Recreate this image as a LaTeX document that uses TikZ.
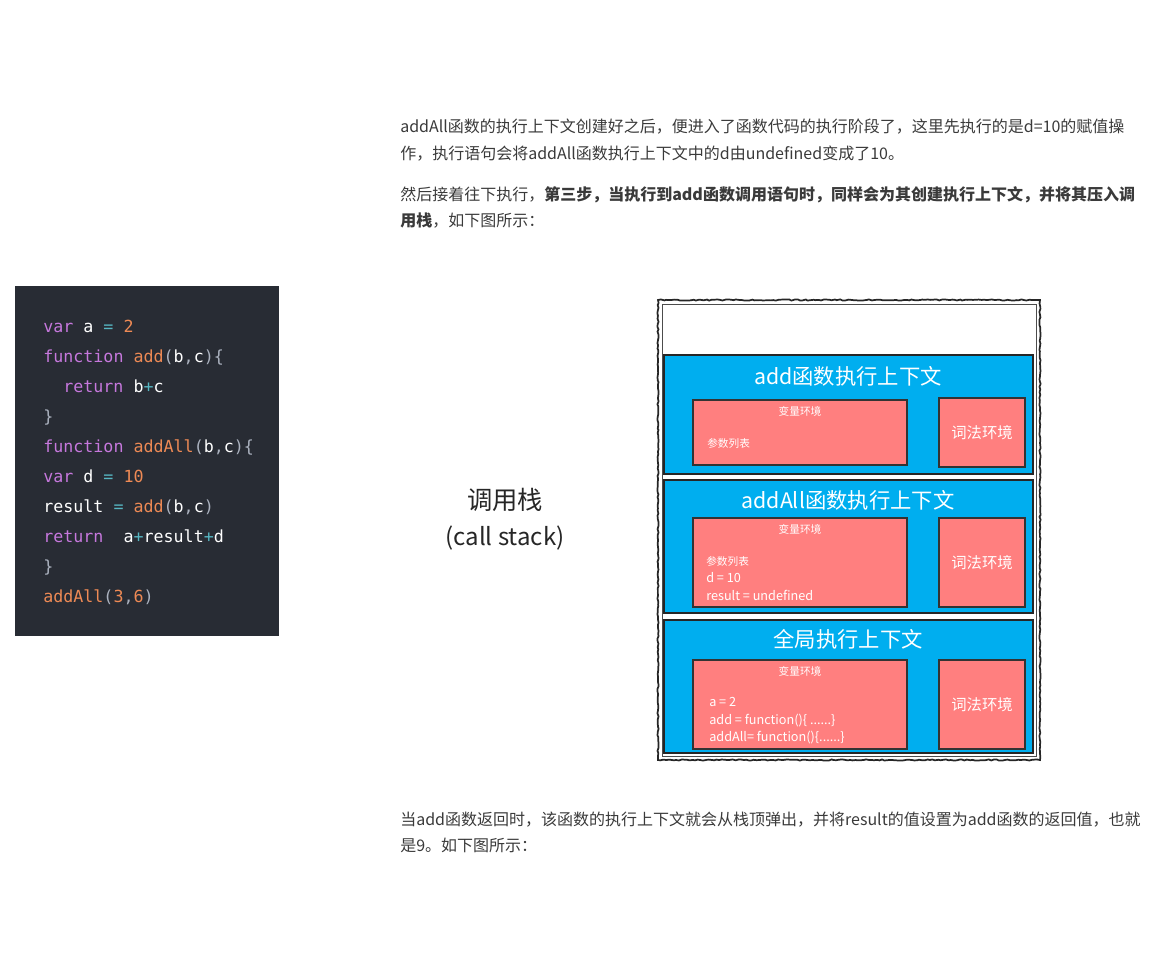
\documentclass[tikz,border=0pt]{standalone}
\usepackage{fontspec}
\setmainfont{Noto Sans CJK SC}
\setmonofont{DejaVu Sans Mono}
\usetikzlibrary{positioning, decorations.pathmorphing}

\definecolor{txtcol}{HTML}{3A3A3A}
\definecolor{codebg}{HTML}{282C34}
\definecolor{kwcol}{HTML}{C678DD}
\definecolor{numcol}{HTML}{EE8A55}
\definecolor{opcol}{HTML}{56B6C2}
\definecolor{pncol}{HTML}{ABB2BF}
\definecolor{stackblue}{HTML}{00AEEF}
\definecolor{envred}{HTML}{FF7F7F}

\newcommand{\codekw}[1]{\textcolor{kwcol}{#1}}
\newcommand{\codenum}[1]{\textcolor{numcol}{#1}}
\newcommand{\codeop}[1]{\textcolor{opcol}{#1}}
\newcommand{\codepn}[1]{\textcolor{pncol}{#1}}

\tikzset{
  para/.style={anchor=west, inner sep=0pt, text height=9pt, text depth=3pt, text=txtcol, font=\fontsize{12}{14}\selectfont},
  codeline/.style={anchor=west, inner sep=0pt, text height=9.5pt, text depth=3pt, text=white, font=\fontsize{12.5}{15}\ttfamily},
  ctxbox/.style={draw=black!85, line width=0.9pt, fill=stackblue, inner sep=0pt, minimum width=276.75pt},
  envbox/.style={draw=black!80, line width=0.8pt, fill=envred, inner sep=0pt},
  ctxtitle/.style={text=white, inner sep=0pt, font=\fontsize{16}{18}\selectfont},
  envlabel/.style={text=white, inner sep=0pt, font=\fontsize{8}{9}\selectfont},
  lexlabel/.style={text=white, inner sep=0pt, font=\fontsize{11.5}{13}\selectfont},
  envtext/.style={text=white, anchor=west, inner sep=0pt, text height=7pt, text depth=2.5pt, font=\fontsize{9.5}{11}\selectfont},
  sketch/.style={draw=black!85, line width=1.3pt, decorate,
    decoration={random steps, segment length=2pt, amplitude=0.45pt}}
}

\begin{document}
\begin{tikzpicture}[x=0.75pt, y=-0.75pt]
  \useasboundingbox (0,0) rectangle (1164,953);

  % text above the picture
  \node[para] (p1a) at (400,128) {addAll函数的执行上下文创建好之后，便进入了函数代码的执行阶段了，这里先执行的是d=10的赋值操};
  \node[para] (p1b) at (400,155) {作，执行语句会将addAll函数执行上下文中的d由undefined变成了10。};
  \node[para] (p2a) at (400,196) {然后接着往下执行，\textbf{第三步，当执行到add函数调用语句时，同样会为其创建执行上下文，并将其压入调}};
  \node[para] (p2b) at (400,222) {\textbf{用栈}，如下图所示：};

  % code block
  \node[fill=codebg, minimum width=198pt, minimum height=262.5pt, inner sep=0pt] (code) at (147,461) {};
  \node[codeline] (c1) at (43,328) {\codekw{var} a \codeop{=} \codenum{2}};
  \node[codeline] (c2) at (43,358) {\codekw{function} \codenum{add}\codepn{(}b\codepn{,}c\codepn{)\{}};
  \node[codeline] (c3) at (63,388) {\codekw{return} b\codeop{+}c};
  \node[codeline] (c4) at (43,418) {\codepn{\}}};
  \node[codeline] (c5) at (43,448) {\codekw{function} \codenum{addAll}\codepn{(}b\codepn{,}c\codepn{)\{}};
  \node[codeline] (c6) at (43,478) {\codekw{var} d \codeop{=} \codenum{10}};
  \node[codeline] (c7) at (43,508) {result \codeop{=} \codenum{add}\codepn{(}b\codepn{,}c\codepn{)}};
  \node[codeline] (c8) at (43,538) {\codekw{return}\ \ a\codeop{+}result\codeop{+}d};
  \node[codeline] (c9) at (43,568) {\codepn{\}}};
  \node[codeline] (c10) at (43,598) {\codenum{addAll}\codepn{(}\codenum{3}\codepn{,}\codenum{6}\codepn{)}};

  % call stack label
  \node[text=black!85, font=\fontsize{19}{22}\selectfont, inner sep=0pt] (stk) at (505,500) {调用栈};
  \node[text=black!85, font=\fontsize{18}{22}\selectfont, inner sep=0pt, below=10pt of stk] (stken) {(call stack)};

  % stack frame
  \draw[sketch] (658,300) rectangle (1040,760);
  \draw[black!70, line width=0.6pt] (662,304) rectangle (1036,756);

  % add context
  \node[ctxbox, minimum height=89.25pt] (addctx) at (848.5,414.5) {};
  \node[ctxtitle] (addttl) at (848,376) {add函数执行上下文};
  \node[envbox, minimum width=160.5pt, minimum height=48.75pt] (addvar) at (800,432.5) {};
  \node[envbox, minimum width=64.5pt, minimum height=51.75pt] (addlex) at (982,432.5) {};
  \node[envlabel] (addvarl) at (800,411) {变量环境};
  \node[envtext, font=\fontsize{8}{9}\selectfont] (addargs) at (707,444) {参数列表};
  \node[lexlabel] (addlexl) at (982,433) {词法环境};

  % addAll context
  \node[ctxbox, minimum height=99.75pt] (allctx) at (848.5,546.5) {};
  \node[ctxtitle] (allttl) at (848,500) {addAll函数执行上下文};
  \node[envbox, minimum width=160.5pt, minimum height=66.75pt] (allvar) at (800,562.5) {};
  \node[envbox, minimum width=64.5pt, minimum height=66.75pt] (alllex) at (982,562.5) {};
  \node[envlabel] (allvarl) at (800,529) {变量环境};
  \node[envtext, font=\fontsize{8}{9}\selectfont] (allargs) at (706,562) {参数列表};
  \node[envtext] (alld) at (706,579) {d = 10};
  \node[envtext] (allres) at (706,597) {result = undefined};
  \node[lexlabel] (alllexl) at (982,563) {词法环境};

  % global context
  \node[ctxbox, minimum height=99.75pt] (gloctx) at (848.5,686.5) {};
  \node[ctxtitle] (glottl) at (848,639) {全局执行上下文};
  \node[envbox, minimum width=160.5pt, minimum height=66.75pt] (glovar) at (800,704.5) {};
  \node[envbox, minimum width=64.5pt, minimum height=66.75pt] (glolex) at (982,704.5) {};
  \node[envlabel] (glovarl) at (800,671) {变量环境};
  \node[envtext] (gloa) at (709,703) {a = 2};
  \node[envtext] (gloadd) at (709,721) {add = function()\{ ......\}};
  \node[envtext] (gloall) at (709,738) {addAll= function()\{......\}};
  \node[lexlabel] (glolexl) at (982,705) {词法环境};

  % text below the picture
  \node[para] (p3a) at (400,821) {当add函数返回时，该函数的执行上下文就会从栈顶弹出，并将result的值设置为add函数的返回值，也就};
  \node[para] (p3b) at (400,847) {是9。如下图所示：};
\end{tikzpicture}
\end{document}
